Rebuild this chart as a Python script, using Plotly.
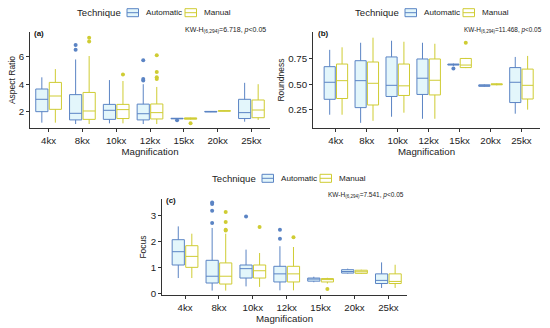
import plotly.graph_objects as go

categories = ["4kx", "8kx", "10kx", "12kx", "15kx", "20kx", "25kx"]
techniques = ["Automatic", "Manual"]

# ---- Aspect Ratio ----
ar_auto_lower = [1.2, 1.1, 1.15, 1.1, 1.46, 1.97, 1.27]
ar_auto_q1 = [2.0, 1.4, 1.44, 1.4, 1.48, 1.98, 1.5]
ar_auto_median = [2.9, 1.88, 2.1, 1.85, 1.5, 2.0, 1.93]
ar_auto_q3 = [3.65, 3.24, 2.53, 2.55, 1.52, 2.02, 2.9]
ar_auto_upper = [4.5, 5.8, 4.3, 4.0, 1.53, 2.03, 4.1]
ar_auto_out = [[], [6.5, 6.85], [], [4.27, 4.37, 5.75], [1.38], [], []]

ar_man_lower = [1.2, 1.1, 1.15, 1.1, 1.42, 2.03, 1.4]
ar_man_q1 = [2.17, 1.44, 1.5, 1.47, 1.45, 2.04, 1.56]
ar_man_median = [3.14, 2.05, 2.15, 1.93, 1.5, 2.05, 2.12]
ar_man_q3 = [4.13, 3.4, 2.53, 2.56, 1.55, 2.07, 2.85]
ar_man_upper = [5.1, 6.05, 4.23, 3.8, 1.57, 2.08, 4.0]
ar_man_out = [[], [7.1, 7.38], [4.7], [4.37, 4.5, 4.88, 6.1], [1.15], [], []]

# ---- Roundness ----
rd_auto_lower = [0.2, 0.12, 0.18, 0.16, 0.68, 0.475, 0.21]
rd_auto_q1 = [0.352, 0.27, 0.38, 0.40, 0.69, 0.48, 0.32]
rd_auto_median = [0.52, 0.536, 0.49, 0.56, 0.695, 0.487, 0.52]
rd_auto_q3 = [0.674, 0.733, 0.77, 0.75, 0.70, 0.495, 0.665]
rd_auto_upper = [0.84, 0.91, 0.93, 0.91, 0.705, 0.50, 0.77]
rd_auto_out = [[], [], [], [], [0.655], [], []]

rd_man_lower = [0.2, 0.14, 0.22, 0.16, 0.66, 0.49, 0.25]
rd_man_q1 = [0.36, 0.296, 0.39, 0.395, 0.665, 0.495, 0.355]
rd_man_median = [0.536, 0.51, 0.485, 0.54, 0.69, 0.50, 0.49]
rd_man_q3 = [0.70, 0.72, 0.70, 0.75, 0.755, 0.505, 0.65]
rd_man_upper = [0.865, 0.96, 0.92, 0.90, 0.76, 0.51, 0.78]
rd_man_out = [[], [], [], [], [0.91], [], []]

# ---- Focus ----
fc_auto_lower = [0.61, 0.13, 0.29, 0.14, 0.45, 0.78, 0.23]
fc_auto_q1 = [1.11, 0.42, 0.61, 0.46, 0.49, 0.80, 0.40]
fc_auto_median = [1.62, 0.68, 0.97, 0.77, 0.57, 0.86, 0.52]
fc_auto_q3 = [2.08, 1.29, 1.11, 1.06, 0.61, 0.93, 0.77]
fc_auto_upper = [2.59, 2.53, 1.7, 1.83, 0.66, 0.97, 1.21]
fc_auto_out = [[], [2.72, 3.19, 3.45, 3.51], [2.97], [2.12, 2.46], [], [], []]

fc_man_lower = [0.61, 0.13, 0.27, 0.14, 0.4, 0.77, 0.23]
fc_man_q1 = [1.02, 0.38, 0.61, 0.46, 0.46, 0.79, 0.40]
fc_man_median = [1.44, 0.68, 0.89, 0.77, 0.55, 0.85, 0.48]
fc_man_q3 = [1.85, 1.19, 1.11, 1.06, 0.59, 0.91, 0.77]
fc_man_upper = [2.31, 2.31, 1.57, 1.80, 0.62, 0.93, 1.12]
fc_man_out = [[], [2.43, 2.46, 2.76, 3.14], [2.57], [2.17], [0.19], [], []]

LINE = {"Automatic": "#5b84c4", "Manual": "#cfcc33"}
FILL = {"Automatic": "#e3f6fb", "Manual": "#ffffff"}
FONT = "Liberation Sans, Arial, sans-serif"
TXT = "#222222"

fig = go.Figure()

panels = [
    dict(x="x", y="y",
         data={"Automatic": (ar_auto_lower, ar_auto_q1, ar_auto_median, ar_auto_q3, ar_auto_upper, ar_auto_out),
               "Manual": (ar_man_lower, ar_man_q1, ar_man_median, ar_man_q3, ar_man_upper, ar_man_out)}),
    dict(x="x2", y="y2",
         data={"Automatic": (rd_auto_lower, rd_auto_q1, rd_auto_median, rd_auto_q3, rd_auto_upper, rd_auto_out),
               "Manual": (rd_man_lower, rd_man_q1, rd_man_median, rd_man_q3, rd_man_upper, rd_man_out)}),
    dict(x="x3", y="y3",
         data={"Automatic": (fc_auto_lower, fc_auto_q1, fc_auto_median, fc_auto_q3, fc_auto_upper, fc_auto_out),
               "Manual": (fc_man_lower, fc_man_q1, fc_man_median, fc_man_q3, fc_man_upper, fc_man_out)}),
]

for p in panels:
    for t in techniques:
        lo, q1, med, q3, up, out = p["data"][t]
        fig.add_trace(go.Box(
            name=t, x=categories,
            lowerfence=lo, q1=q1, median=med, q3=q3, upperfence=up,
            boxpoints=False,
            line=dict(color=LINE[t], width=1),
            fillcolor=FILL[t], whiskerwidth=0,
            xaxis=p["x"], yaxis=p["y"],
            offsetgroup=t, alignmentgroup=p["x"], showlegend=False, hoverinfo="skip",
        ))
    for t in techniques:
        out = p["data"][t][5]
        ox = [c for c, vals in zip(categories, out) for _ in vals]
        oy = [v for vals in out for v in vals]
        fig.add_trace(go.Scatter(
            x=ox, y=oy, mode="markers", name=t,
            marker=dict(color=LINE[t], size=4),
            xaxis=p["x"], yaxis=p["y"],
            offsetgroup=t, alignmentgroup=p["x"] + "s", showlegend=False, hoverinfo="skip",
        ))

axis_common = dict(showline=True, linecolor="#333333", linewidth=1, ticks="outside",
                   ticklen=3, tickcolor="#333333", showgrid=False, zeroline=False,
                   automargin=False,
                   tickfont=dict(size=9.7, color=TXT, family=FONT))
xt_font = dict(size=9.7, color=TXT, family=FONT)
yt_font = dict(size=8.5, color=TXT, family=FONT)

W, H = 550, 328
def px_x(a, b):
    return [a / W, b / W]
def px_y(top, bottom):
    return [1 - bottom / H, 1 - top / H]

fig.update_layout(
    xaxis=dict(domain=px_x(30, 270), anchor="y", type="category", range=[-0.55, 6.55],
               categoryorder="array", categoryarray=categories,
               title=dict(text="Magnification", standoff=0, font=xt_font), **axis_common),
    yaxis=dict(domain=px_y(31.7, 128.3), anchor="x", range=[0.79, 7.82], tickvals=[2, 4, 6],
               title=dict(text="Aspect Ratio", standoff=1, font=yt_font), **axis_common),
    xaxis2=dict(domain=px_x(313, 540), anchor="y2", type="category", range=[-0.74, 6.6],
                categoryorder="array", categoryarray=categories,
                title=dict(text="Magnification", standoff=0, font=xt_font), **axis_common),
    yaxis2=dict(domain=px_y(31.7, 128.3), anchor="x2", range=[0.066, 1.019],
                tickvals=[0.25, 0.5, 0.75], ticktext=["0.25", "0.50", "0.75"],
                title=dict(text="Roundness", standoff=2, font=yt_font), **axis_common),
    xaxis3=dict(domain=px_x(162, 407), anchor="y3", type="category", range=[-0.68, 6.55],
                categoryorder="array", categoryarray=categories,
                title=dict(text="Magnification", standoff=0, font=xt_font), **axis_common),
    yaxis3=dict(domain=px_y(199, 295), anchor="x3", range=[-0.04, 3.64], tickvals=[0, 1, 2, 3],
                title=dict(text="Focus", standoff=2, font=yt_font), **axis_common),
    boxmode="group", boxgap=0.2, boxgroupgap=0.1,
    scattermode="group", scattergap=0.2,
    width=W, height=H, margin=dict(l=0, r=0, t=0, b=0, autoexpand=False),
    paper_bgcolor="white", plot_bgcolor="white",
    font=dict(family=FONT, color=TXT),
    showlegend=False,
)

# Legend keys ("Technique": Automatic / Manual) for each panel, placed in paper space
legend_spots = [(75, 12.7), (353, 12.7), (210, 178.3)]
for L, yc in legend_spots:
    fig.add_annotation(text="Technique", x=L / W, y=1 - yc / H, xref="paper", yref="paper",
                       xanchor="left", yanchor="middle", showarrow=False,
                       font=dict(size=9.6, family=FONT, color=TXT))
    for t, (i0, tx) in zip(techniques, [(52, 69), (110, 126.5)]):
        x0, x1 = (L + i0) / W, (L + i0 + 11.5) / W
        y0, y1 = 1 - (yc + 4) / H, 1 - (yc - 4) / H
        fig.add_shape(type="rect", xref="paper", yref="paper", x0=x0, x1=x1, y0=y0, y1=y1,
                      line=dict(color=LINE[t], width=1), fillcolor=FILL[t])
        fig.add_shape(type="line", xref="paper", yref="paper", x0=x0, x1=x1,
                      y0=1 - yc / H, y1=1 - yc / H, line=dict(color=LINE[t], width=1))
        fig.add_annotation(text=t, x=(L + tx) / W, y=1 - yc / H, xref="paper", yref="paper",
                           xanchor="left", yanchor="middle", showarrow=False,
                           font=dict(size=8.1, family=FONT, color=TXT))

annos = [
    ("KW-H<sub>(6,294)</sub>=6.718, <i>p</i><0.05", 268, 30, 7),
    ("KW-H<sub>(6,294)</sub>=11.468, <i>p</i><0.05", 544, 30, 6.4),
    ("KW-H<sub>(6,294)</sub>=7.541, <i>p</i><0.05", 406, 195, 6.5),
]
for txt, ax, ay, fs in annos:
    fig.add_annotation(text=txt, x=ax / W, y=1 - ay / H, xref="paper", yref="paper",
                       xanchor="right", yanchor="middle", showarrow=False,
                       font=dict(size=fs, family=FONT, color=TXT))

labels = [("<b>(a)</b>", 32, 34), ("<b>(b)</b>", 316, 34), ("<b>(c)</b>", 164, 200)]
for txt, ax, ay in labels:
    fig.add_annotation(text=txt, x=ax / W, y=1 - ay / H, xref="paper", yref="paper",
                       xanchor="left", yanchor="middle", showarrow=False,
                       font=dict(size=8, family=FONT, color="#111111"))

fig.write_html("out.html", config={"displayModeBar": False},
               post_script="document.body.style.margin='0';")
